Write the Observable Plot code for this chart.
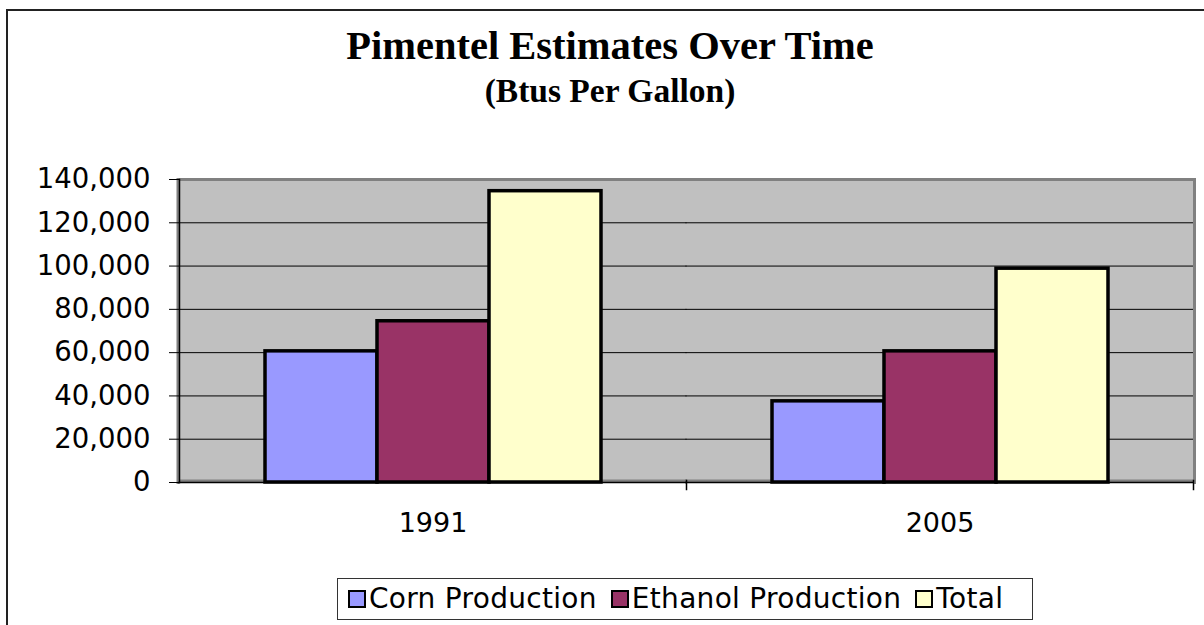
<!DOCTYPE html>
<html>
<head>
<meta charset="utf-8">
<script src="https://cdn.jsdelivr.net/npm/d3@7"></script>
<script src="https://cdn.jsdelivr.net/npm/@observablehq/plot@0.6"></script>
<style>
  html, body { margin: 0; padding: 0; background: #fff; }
  #root { position: relative; width: 1204px; height: 625px; overflow: hidden; background: #fff; }
  #border { position: absolute; left: 6px; top: 9px; width: 1400px; height: 800px; border-top: 2px solid #222; border-left: 2px solid #222; }
  .title { position: absolute; left: 0; width: 1220px; text-align: center; font-family: "Liberation Serif", "Times New Roman", serif; font-weight: bold; color: #000; white-space: nowrap; }
  #t1 { top: 26px; font-size: 40.5px; line-height: 40px; }
  #t2 { top: 74px; font-size: 33.5px; line-height: 33px; }
  #chart { position: absolute; left: 0; top: 150px; }
  #legend { position: absolute; left: 337px; top: 578px; width: 684px; height: 40px; border: 1px solid #333; background: #fff;
            font-family: "DejaVu Sans", Verdana, sans-serif; font-size: 28px; letter-spacing: 0.3px; line-height: 40px; color: #000; white-space: nowrap; padding-left: 10px; box-sizing: content-box; }
  .item { display: inline-block; margin-right: 14px; }
  .sw { display: inline-block; width: 14px; height: 14px; border: 2px solid #000; margin-right: 3px; vertical-align: baseline; }
</style>
</head>
<body>
<div id="root">
  <div id="border"></div>
  <div class="title" id="t1">Pimentel Estimates Over Time</div>
  <div class="title" id="t2">(Btus Per Gallon)</div>
  <div id="chart"></div>
  <div id="legend"></div>
</div>
<script>
const years = ["1991", "2005"];
const seriesNames = ["Corn Production", "Ethanol Production", "Total"];
const corn = [60600, 37500];
const ethanol = [74500, 60600];
const total = [134600, 98800];
const seriesColors = ["#9999FF", "#993366", "#FFFFCC"];
const yTicks = [0, 20000, 40000, 60000, 80000, 100000, 120000, 140000];

const valuesBySeries = [corn, ethanol, total];
const data = years.flatMap((yr, i) => seriesNames.map((s, j) => ({year: yr, series: s, value: valuesBySeries[j][i]})));
const gridTicks = yTicks.filter(t => t > 0 && t < 140000);

const chart = Plot.plot({
  width: 1204,
  height: 411,
  marginLeft: 179,
  marginRight: 11,
  marginTop: 29,
  marginBottom: 79,
  style: {fontFamily: "DejaVu Sans, Verdana, sans-serif", fontSize: "27px", color: "#000", background: "transparent", overflow: "visible"},
  fx: {domain: years, padding: 0, label: null},
  x: {domain: seriesNames, paddingInner: 0, paddingOuter: 0.75, axis: null},
  y: {domain: [0, 140000], label: null},
  color: {domain: seriesNames, range: seriesColors},
  marks: [
    Plot.frame({fill: "#C0C0C0", insetLeft: -1, insetRight: -1}),
    Plot.ruleY(gridTicks, {stroke: "#000", strokeWidth: 1, insetLeft: -0.5, insetRight: -0.5}),
    Plot.frame({anchor: "top", stroke: "#808080", strokeWidth: 3, insetLeft: -1, insetRight: -1}),
    Plot.frame({anchor: "right", facetAnchor: "right", stroke: "#808080", strokeWidth: 3, dx: 1}),
    Plot.frame({anchor: "left", facetAnchor: "left", stroke: "#808080", strokeWidth: 3, dx: -1.5}),
    Plot.ruleY([0], {stroke: "#808080", strokeWidth: 3, dy: -1.5, insetLeft: -1, insetRight: -1}),
    Plot.barY(data, {fx: "year", x: "series", y: "value", fill: "series", stroke: "#000", strokeWidth: 3.5, inset: 0}),
    Plot.ruleY([0], {stroke: "#000", strokeWidth: 1.5, insetLeft: -1, insetRight: -1}),
    Plot.frame({anchor: "left", facetAnchor: "left", stroke: "#000", strokeWidth: 1.5}),
    Plot.frame({anchor: "right", stroke: "#000", strokeWidth: 1.5, insetTop: 301, insetBottom: -7}),
    Plot.axisY(yTicks, {tickSize: 10, tickPadding: 19, tickFormat: d3.format(","), fontSize: 27.5, label: null}),
    Plot.axisFx({anchor: "bottom", tickSize: 0, tickPadding: 30, fontSize: 27, label: null})
  ]
});
document.getElementById("chart").appendChild(chart);

const legend = document.getElementById("legend");
seriesNames.forEach((s, j) => {
  const item = document.createElement("span");
  item.className = "item";
  const sw = document.createElement("span");
  sw.className = "sw";
  sw.style.background = seriesColors[j];
  item.appendChild(sw);
  item.appendChild(document.createTextNode(s));
  legend.appendChild(item);
});
</script>
</body>
</html>
